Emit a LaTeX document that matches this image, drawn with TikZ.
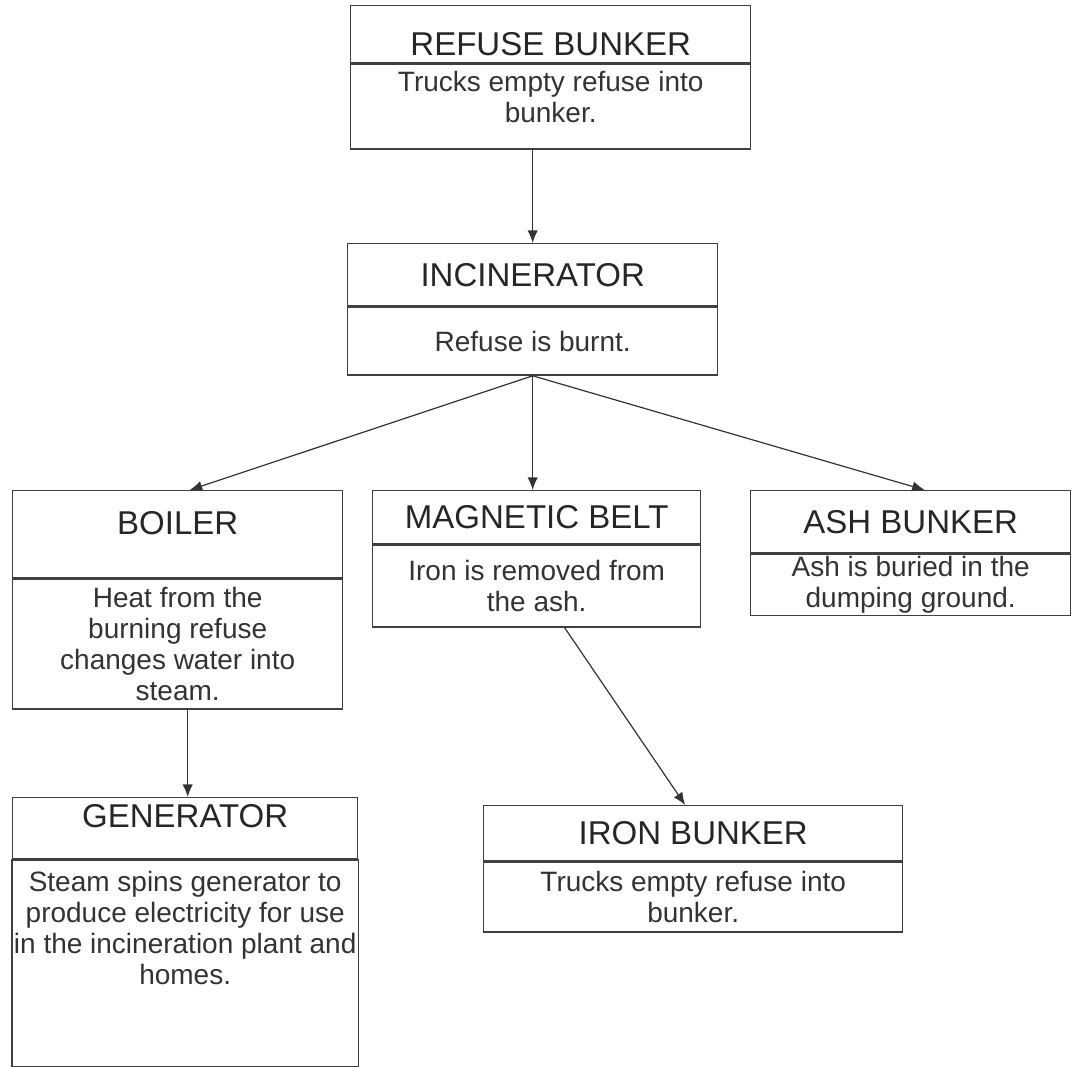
\documentclass[tikz,border=0pt]{standalone}
\usepackage{fontspec}
\setmainfont{Liberation Sans}
\usepackage{tikz}
\usetikzlibrary{arrows.meta,positioning}
\tikzset{
  headbox/.style={draw=black!75, line width=0.7pt, inner sep=1pt, text=black!85, font=\fontsize{16.5}{19}\selectfont},
  bodybox/.style={draw=black!75, line width=0.7pt, inner sep=1pt, align=center, text=black!80, font=\fontsize{14}{15.5}\selectfont},
  cline/.style={-{Latex[length=2.2mm,width=1.8mm]}, line width=0.6pt, black!80},
}

\begin{document}
\begin{tikzpicture}[x=0.5pt, y=-0.5pt]
  \useasboundingbox (0,0) rectangle (1073,1067);
  % top row
  \node[headbox, anchor=north west, minimum width=200pt, minimum height=28.5pt, text height=23.9pt, text depth=2.6pt] (refH) at (350,5) {REFUSE BUNKER};
  \node[bodybox, below=0pt of refH, minimum width=200pt, minimum height=42.5pt, text height=28pt, text depth=12.5pt] (refB) {Trucks empty refuse into\\bunker.};
  \node[headbox, anchor=north west, minimum width=185pt, minimum height=31pt] (incH) at (347,243) {INCINERATOR};
  \node[bodybox, below=0pt of incH, minimum width=185pt, minimum height=34pt] (incB) {Refuse is burnt.};
  % middle row
  \node[headbox, anchor=north west, minimum width=165pt, minimum height=43.5pt, text height=20.9pt, text depth=20.6pt] (boiH) at (12,490) {BOILER};
  \node[bodybox, below=0pt of boiH, minimum width=165pt, minimum height=65pt] (boiB) {Heat from the\\burning refuse\\changes water into\\steam.};
  \node[headbox, anchor=north west, minimum width=164pt, minimum height=26.5pt] (magH) at (372,490) {MAGNETIC BELT};
  \node[bodybox, below=0pt of magH, minimum width=164pt, minimum height=41pt] (magB) {Iron is removed from\\the ash.};
  \node[headbox, anchor=north west, minimum width=160pt, minimum height=31pt] (ashH) at (750,490) {ASH BUNKER};
  \node[bodybox, below=0pt of ashH, minimum width=160pt, minimum height=29pt] (ashB) {Ash is buried in the\\dumping ground.};
  % bottom row
  \node[headbox, anchor=north west, minimum width=172.5pt, minimum height=30.5pt, text height=13.9pt, text depth=14.6pt] (genH) at (12,797) {GENERATOR};
  \node[bodybox, below=0pt of genH, minimum width=172.5pt, minimum height=103.5pt, text height=61pt, text depth=40.5pt] (genB) {Steam spins generator to\\produce electricity for use\\in the incineration plant and\\homes.};
  \node[headbox, anchor=north west, minimum width=209.5pt, minimum height=27.5pt] (ironH) at (483,805) {IRON BUNKER};
  \node[bodybox, below=0pt of ironH, minimum width=209.5pt, minimum height=35pt] (ironB) {Trucks empty refuse into\\bunker.};

  \draw[cline] (incH.north |- refB.south) -- (incH.north);
  \draw[cline] (incB.south) -- ([xshift=6pt]boiH.north);
  \draw[cline] (incB.south) -- (incB.south |- magH.north);
  \draw[cline] (incB.south) -- ([xshift=7pt]ashH.north);
  \draw[cline] ([xshift=5pt]boiB.south) -- ([xshift=5pt]boiB.south |- genH.north);
  \draw[cline] ([xshift=14pt]magB.south) -- ([xshift=-4pt]ironH.north);
\end{tikzpicture}
\end{document}
